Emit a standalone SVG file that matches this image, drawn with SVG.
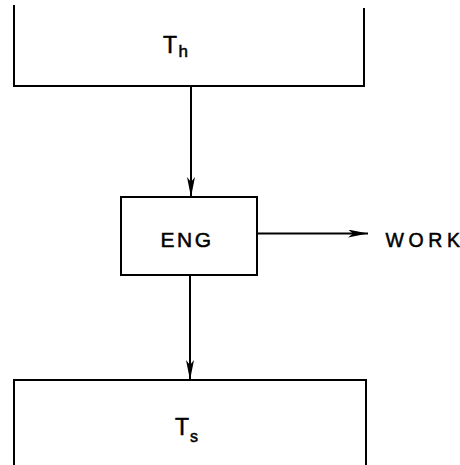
<svg xmlns="http://www.w3.org/2000/svg" width="460" height="465" viewBox="0 0 460 465">
<defs>
<style>
.ln{fill:none;stroke:#000;stroke-width:2}
.t{font-family:"Liberation Sans",Arial,sans-serif;fill:#000;stroke:#000;stroke-width:0.5}
</style>
<marker id="ah" viewBox="0 0 20 8" refX="20" refY="4" markerWidth="20" markerHeight="8" markerUnits="userSpaceOnUse" orient="auto">
<path d="M0,0 L20,4 L0,8 L5,4 Z" fill="#000"/>
</marker>
</defs>
<rect width="460" height="465" fill="#fff"/>
<g id="hot">
<path class="ln" d="M14,5 V86 H364 V8"/>
<text class="t" x="163" y="53.3" font-size="23">T<tspan font-size="17" dy="3.4" dx="1.5">h</tspan></text>
</g>
<g id="engine">
<rect class="ln" x="121" y="197" width="136" height="78"/>
<text class="t" x="160.5" y="247" font-size="21" letter-spacing="2.5">ENG</text>
</g>
<g id="work">
<text class="t" x="385.5" y="247" font-size="19.5"><tspan letter-spacing="4.6">WOR</tspan>K</text>
</g>
<g id="sink">
<path class="ln" d="M14,465 V380 H366 V465"/>
<text class="t" x="175" y="435" font-size="23">T<tspan font-size="16" dy="7" dx="1">s</tspan></text>
</g>
<g id="connectors">
<line class="ln" x1="191" y1="86" x2="191" y2="197" marker-end="url(#ah)"/>
<line class="ln" x1="190" y1="275" x2="190" y2="380" marker-end="url(#ah)"/>
<line class="ln" x1="257" y1="233.5" x2="368" y2="233.5" marker-end="url(#ah)"/>
</g>
</svg>
